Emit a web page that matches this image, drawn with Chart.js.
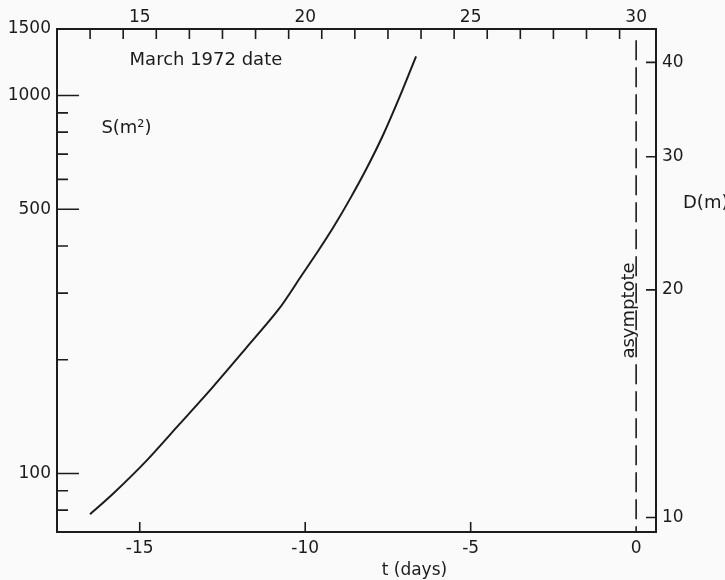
<!DOCTYPE html>
<html>
<head>
<meta charset="utf-8">
<script src="https://cdn.jsdelivr.net/npm/chart.js@4.4.0/dist/chart.umd.min.js"></script>
<style>
  body { margin: 0; background: #f9faf9; }
  canvas { display: block; }
</style>
</head>
<body>
<canvas id="myChart" width="725" height="580"></canvas>
<script>
// curve: t (days) and area S (m2)
var tDays = [-16.5, -15.8, -14.8, -13.8, -12.8, -11.8, -10.8, -10.1, -9.6, -9.15, -8.65, -8.15, -7.65, -7.15, -6.65];
var areaS = [78, 88.5, 108, 135, 169, 214, 272, 335, 389, 448, 532, 640, 785, 990, 1270];

// asymptote at t = 0
var asymptoteT = [0, 0];
var asymptoteS = [1400, 70];

// ticks
var tLabels = [-15, -10, -5, 0];
var tMarks = [-15, -10, -5];
var sLabels = [100, 500, 1000, 1500];
var sMajor = [100, 500, 1000];
var sMinor = [80, 90, 200, 300, 400, 600, 700, 800, 900];
var dateLabels = [15, 20, 25, 30];
var dateMarks = [13.5, 14.5, 15.5, 16.5, 17.5, 18.5, 19.5, 20.5, 21.5, 22.5, 23.5, 24.5, 25.5, 26.5, 27.5, 28.5, 29.5];
var dLabels = [10, 20, 30, 40];

var tMin = -17.5, tMax = 0.6;
var sMin = 70, sMax = 1500;
var dateOffset = 30;  // March date = t + 30
var sPerD2 = 0.765;   // S = 0.765 * D^2 on this figure

var ink = '#1c1c1c';
var font = 'DejaVu Sans';

var ctx = document.getElementById('myChart').getContext('2d');

function pts(xs, ys) {
    var out = [];
    for (var i = 0; i < xs.length; i++) out.push({x: xs[i], y: ys[i]});
    return out;
}
function setTicks(list) {
    return function (s) { s.ticks = list.map(function (v) { return {value: v}; }); };
}

var extras = {
    id: 'extras',
    afterDatasetsDraw: function (chart) {
        var c = chart.ctx, a = chart.chartArea, sc = chart.scales;
        c.save();
        c.strokeStyle = ink;
        c.lineWidth = 1.6;
        c.beginPath();
        sMajor.forEach(function (v) {
            var y = sc.y.getPixelForValue(v);
            c.moveTo(a.left, y); c.lineTo(a.left + 22, y);
        });
        sMinor.forEach(function (v) {
            var y = sc.y.getPixelForValue(v);
            c.moveTo(a.left, y); c.lineTo(a.left + 11, y);
        });
        tMarks.forEach(function (v) {
            var x = sc.x.getPixelForValue(v);
            c.moveTo(x, a.bottom); c.lineTo(x, a.bottom - 10);
        });
        dateMarks.forEach(function (v) {
            var x = sc.x2.getPixelForValue(v);
            c.moveTo(x, a.top); c.lineTo(x, a.top + 10);
        });
        dLabels.forEach(function (v) {
            var y = sc.y2.getPixelForValue(v);
            c.moveTo(a.right, y); c.lineTo(a.right - 10, y);
        });
        c.stroke();

        c.fillStyle = ink;
        c.textBaseline = 'middle';
        c.textAlign = 'center';
        c.font = '18px "' + font + '"';
        c.fillText('March 1972 date', sc.x.getPixelForValue(-13), sc.y.getPixelForValue(1240));
        c.fillText('S(m\u00b2)', sc.x.getPixelForValue(-15.4), sc.y.getPixelForValue(820));
        c.textAlign = 'left';
        c.fillText('D(m)', a.right + 27, sc.y.getPixelForValue(520));
        c.textAlign = 'center';
        c.font = '17px "' + font + '"';
        c.fillText('t (days)', sc.x.getPixelForValue(-6.7), a.bottom + 39);

        c.translate(sc.x.getPixelForValue(0) - 2, sc.y.getPixelForValue(270));
        c.rotate(-Math.PI / 2);
        c.textBaseline = 'alphabetic';
        c.font = '18px "' + font + '"';
        c.fillText('asymptote', 0, 0);
        c.restore();
    }
};

var tickFont = {family: font, size: 17};

var myChart = new Chart(ctx, {
    type: 'line',
    data: {
        datasets: [{
            label: 'S',
            data: pts(tDays, areaS),
            borderColor: ink,
            borderWidth: 2,
            pointRadius: 0,
            tension: 0.3,
            xAxisID: 'x',
            yAxisID: 'y'
        }, {
            label: 'asymptote',
            data: pts(asymptoteT, asymptoteS),
            borderColor: ink,
            borderWidth: 1.6,
            borderDash: [20, 7],
            pointRadius: 0,
            xAxisID: 'x',
            yAxisID: 'y'
        }]
    },
    options: {
        responsive: false,
        animation: false,
        layout: {padding: 0},
        plugins: {legend: {display: false}, tooltip: {enabled: false}},
        scales: {
            x: {
                type: 'linear', position: 'bottom', min: tMin, max: tMax,
                afterBuildTicks: setTicks(tLabels),
                afterFit: function (s) { s.height = 48; },
                grid: {drawOnChartArea: false, drawTicks: false},
                border: {color: ink, width: 2},
                ticks: {autoSkip: false, maxRotation: 0, padding: 6, color: ink, font: tickFont,
                        callback: function (v) { return String(v); }}
            },
            x2: {
                type: 'linear', position: 'top', min: tMin + dateOffset, max: tMax + dateOffset,
                afterBuildTicks: setTicks(dateLabels),
                afterFit: function (s) { s.height = 29; },
                grid: {drawOnChartArea: false, drawTicks: false},
                border: {color: ink, width: 2},
                ticks: {autoSkip: false, maxRotation: 0, padding: 1, color: ink, font: tickFont,
                        callback: function (v) { return String(v); }}
            },
            y: {
                type: 'logarithmic', position: 'left', min: sMin, max: sMax,
                afterBuildTicks: setTicks(sLabels),
                afterFit: function (s) { s.width = 57; },
                grid: {drawOnChartArea: false, drawTicks: false},
                border: {color: ink, width: 2},
                ticks: {autoSkip: false, padding: 6, color: ink, font: tickFont,
                        callback: function (v) { return String(v); }}
            },
            y2: {
                type: 'logarithmic', position: 'right',
                min: Math.sqrt(sMin / sPerD2), max: Math.sqrt(sMax / sPerD2),
                afterBuildTicks: setTicks(dLabels),
                afterFit: function (s) { s.width = 69; },
                grid: {drawOnChartArea: false, drawTicks: false},
                border: {color: ink, width: 2},
                ticks: {autoSkip: false, padding: 6, color: ink, font: tickFont,
                        callback: function (v) { return String(v); }}
            }
        }
    },
    plugins: [extras]
});
</script>
</body>
</html>
